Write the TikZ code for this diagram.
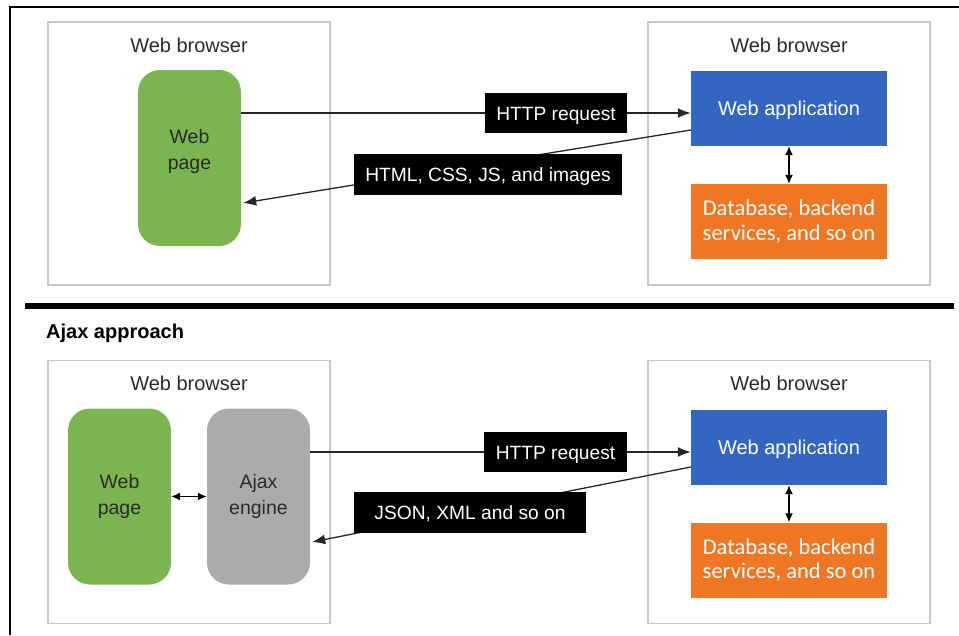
\documentclass[tikz,border=0pt]{standalone}
\usepackage{fontspec}
\setmainfont{Liberation Sans}
\newfontfamily\dbfont{Carlito}
\usetikzlibrary{arrows.meta,calc}
\definecolor{boxgray}{HTML}{C8C8C8}
\definecolor{pagegreen}{HTML}{7AB550}
\definecolor{enginegray}{HTML}{ABABAB}
\definecolor{appblue}{HTML}{3366C0}
\definecolor{dborange}{HTML}{EF7622}
\definecolor{txtdark}{HTML}{2A2A2A}
\tikzset{
  browser/.style={draw=boxgray,line width=1.5pt,minimum width=282pt,minimum height=263pt,inner sep=0pt},
  btitle/.style={font=\fontsize{20}{23}\selectfont,text=txtdark,inner sep=0pt},
  pagebox/.style={fill=pagegreen,rounded corners=22pt,minimum width=103pt,minimum height=176pt,
    align=center,font=\fontsize{19.5}{26}\selectfont,text=txtdark,inner sep=0pt},
  enginebox/.style={pagebox,fill=enginegray},
  appbox/.style={fill=appblue,minimum width=196pt,minimum height=75pt,text=white,
    font=\fontsize{20}{23}\selectfont,inner sep=0pt,text height=14.5pt,text depth=0pt},
  dbbox/.style={fill=dborange,minimum width=196pt,minimum height=75pt,text=white,align=center,
    font=\dbfont\fontsize{22.5}{24.5}\selectfont,inner sep=0pt},
  lbl/.style={fill=black,text=white,font=\fontsize{19.2}{22}\selectfont,inner sep=0pt,
    text height=14pt,text depth=0pt},
  conn/.style={draw=black!85,line width=1.3pt,-{Latex[length=13pt,width=10pt]}},
  dconn/.style={draw=black,line width=1.3pt,{Latex[length=9pt,width=8pt]}-{Latex[length=9pt,width=8pt]}}
}
\begin{document}
\begin{tikzpicture}[x=1pt,y=-1pt]
\useasboundingbox (0,0) rectangle (959,635);
% outer frame
\draw[line width=1.5pt] (10,635) -- (10,7) -- (959,7);
% separator
\draw[line width=6pt] (25,306) -- (954,306);
\node[anchor=west,font=\bfseries\fontsize{20}{23}\selectfont,inner sep=0pt] (ajaxtitle) at (46,333) {Ajax approach};

% ===== top half =====
\node[browser] (b1) at (189,153.5) {};
\node[btitle] (b1t) at (189,45) {Web browser};
\node[browser] (b2) at (789,153.5) {};
\node[btitle] (b2t) at (789,45) {Web browser};
\node[pagebox] (wp1) at (189.5,158) {Web\\page\\[-8pt]\mbox{}};
\node[appbox] (wa1) at (789,108.5) {Web application};
\node[dbbox] (db1) at (789,221.5) {Database, backend\\services, and so on};
\draw[dconn] (wa1) -- (db1);
\draw[conn] ($(wp1.east)+(0,-45)$) -- ($(wa1.west)+(0,4.5)$);
\node[lbl,minimum width=142pt,minimum height=40pt] (l1) at (556,113) {HTTP request};
\draw[conn] ($(wa1.west)+(0,21.5)$) -- ($(wp1.east)+(2,45)$);
\node[lbl,minimum width=268pt,minimum height=41pt] (l2) at (488,174.5) {HTML, CSS, JS, and images};

% ===== bottom half =====
\node[browser] (b3) at (189,492) {};
\node[btitle] (b3t) at (189,383) {Web browser};
\node[browser] (b4) at (789,492) {};
\node[btitle] (b4t) at (789,383) {Web browser};
\node[pagebox] (wp2) at (119.5,496.5) {Web\\page};
\node[enginebox] (ae) at (258.5,496.5) {Ajax\\engine};
\draw[dconn] (wp2) -- (ae);
\node[appbox] (wa2) at (789,447.5) {Web application};
\node[dbbox] (db2) at (789,560) {Database, backend\\services, and so on};
\draw[dconn] (wa2) -- (db2);
\draw[conn] ($(ae.east)+(0,-44.5)$) -- ($(wa2.west)+(0,4.5)$);
\node[lbl,minimum width=143pt,minimum height=40pt] (l3) at (555.5,452) {HTTP request};
\draw[conn] ($(wa2.west)+(0,19.5)$) -- ($(ae.east)+(2,45.5)$);
\node[lbl,minimum width=232pt,minimum height=41pt] (l4) at (470,512.5) {JSON, XML and so on};
\end{tikzpicture}
\end{document}
